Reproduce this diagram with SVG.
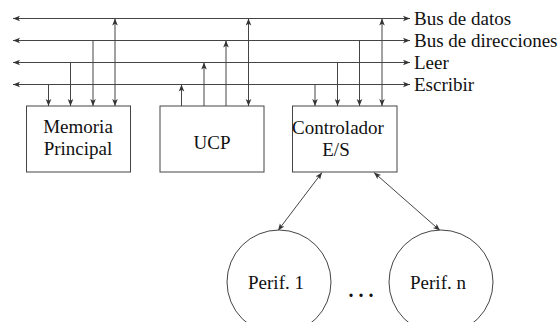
<svg xmlns="http://www.w3.org/2000/svg" width="558" height="322" viewBox="0 0 558 322">
<defs>
<marker id="ah" viewBox="0 0 10 10" refX="10" refY="5" markerWidth="7" markerHeight="7" orient="auto-start-reverse" markerUnits="userSpaceOnUse">
<path d="M0,1 L10,5 L0,9 L2.5,5 z" fill="#333"/>
</marker>
</defs>
<style>
.ln{stroke:#444;stroke-width:1;fill:none}
.box{stroke:#444;stroke-width:1;fill:#fff}
.t{font-family:"Liberation Serif","Times New Roman",serif;font-size:19px;fill:#111}
.m{text-anchor:middle}
</style>
<rect width="558" height="322" fill="#fff"/>
<g id="connectors">
<line class="ln" x1="410" y1="18.5" x2="13" y2="18.5" marker-start="url(#ah)" marker-end="url(#ah)"/>
<line class="ln" x1="410" y1="40.5" x2="13" y2="40.5" marker-start="url(#ah)" marker-end="url(#ah)"/>
<line class="ln" x1="410" y1="62.5" x2="13" y2="62.5" marker-start="url(#ah)" marker-end="url(#ah)"/>
<line class="ln" x1="410" y1="84.5" x2="13" y2="84.5" marker-start="url(#ah)" marker-end="url(#ah)"/>
<line class="ln" x1="48.5" y1="84.5" x2="48.5" y2="106" marker-end="url(#ah)"/>
<line class="ln" x1="70.5" y1="62.5" x2="70.5" y2="106" marker-end="url(#ah)"/>
<line class="ln" x1="93" y1="40.5" x2="93" y2="106" marker-end="url(#ah)"/>
<line class="ln" x1="115" y1="18.5" x2="115" y2="106" marker-start="url(#ah)" marker-end="url(#ah)"/>
<line class="ln" x1="181.5" y1="106" x2="181.5" y2="84.5" marker-end="url(#ah)"/>
<line class="ln" x1="204" y1="106" x2="204" y2="62.5" marker-end="url(#ah)"/>
<line class="ln" x1="226" y1="106" x2="226" y2="40.5" marker-end="url(#ah)"/>
<line class="ln" x1="248.5" y1="18.5" x2="248.5" y2="106" marker-start="url(#ah)" marker-end="url(#ah)"/>
<line class="ln" x1="315" y1="84.5" x2="315" y2="106" marker-end="url(#ah)"/>
<line class="ln" x1="337.5" y1="62.5" x2="337.5" y2="106" marker-end="url(#ah)"/>
<line class="ln" x1="359.5" y1="40.5" x2="359.5" y2="106" marker-end="url(#ah)"/>
<line class="ln" x1="382" y1="18.5" x2="382" y2="106" marker-start="url(#ah)" marker-end="url(#ah)"/>
<line class="ln" x1="322" y1="172.5" x2="278" y2="230.5" marker-start="url(#ah)" marker-end="url(#ah)"/>
<line class="ln" x1="374" y1="172.5" x2="440" y2="230.5" marker-start="url(#ah)" marker-end="url(#ah)"/>
</g>
<g id="labels">
<text class="t" x="414" y="25">Bus de datos</text>
<text class="t" x="414" y="47">Bus de direcciones</text>
<text class="t" x="414" y="69">Leer</text>
<text class="t" x="414" y="91">Escribir</text>
</g>
<g id="memoria">
<rect class="box" x="26.5" y="106" width="104" height="66"/>
<text class="t m" x="78" y="133">Memoria</text>
<text class="t m" x="78" y="155">Principal</text>
</g>
<g id="ucp">
<rect class="box" x="160" y="106" width="104" height="66"/>
<text class="t m" x="212" y="149">UCP</text>
</g>
<g id="controlador">
<rect class="box" x="292.5" y="106" width="104.5" height="66"/>
<text class="t m" x="338" y="134">Controlador</text>
<text class="t m" x="336" y="156">E/S</text>
</g>
<g id="perif1">
<circle class="box" cx="279" cy="282" r="52"/>
<text class="t m" x="276" y="289">Perif. 1</text>
</g>
<g id="perifn">
<circle class="box" cx="441" cy="282" r="52"/>
<text class="t m" x="438" y="289">Perif. n</text>
</g>
<g id="dots">
<text class="t m" x="361" y="297" style="font-weight:bold;font-size:20px">. . .</text>
</g>
</svg>
